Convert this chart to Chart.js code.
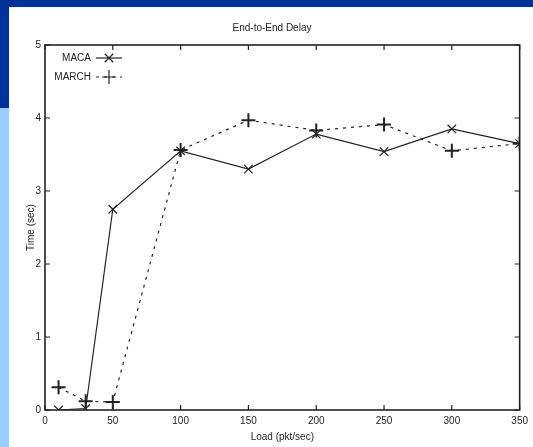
<!DOCTYPE html>
<html>
<head>
<meta charset="utf-8">
<script src="https://cdn.jsdelivr.net/npm/chart.js@4/dist/chart.umd.min.js"></script>
<style>
  html, body { margin: 0; padding: 0; background: #fff; }
  #wrap { position: relative; width: 533px; height: 447px; overflow: hidden; }
  #topBand { position: absolute; left: 0; top: 0; width: 533px; height: 7px; background: #003399; }
  #leftDark { position: absolute; left: 0; top: 0; width: 9px; height: 108px; background: #003399; }
  #leftLight { position: absolute; left: 0; top: 108px; width: 9px; height: 339px; background: #99ccff; }
  canvas { position: absolute; left: 0; top: 0; }
</style>
</head>
<body>
<div id="wrap">
  <canvas id="myChart" width="533" height="447"></canvas>
  <div id="topBand"></div>
  <div id="leftDark"></div>
  <div id="leftLight"></div>
</div>
<script>
// data
const loads = [10, 30, 50, 100, 150, 200, 250, 300, 350];
const macaDelay = [0.0, 0.02, 2.75, 3.55, 3.3, 3.78, 3.54, 3.85, 3.65];
const marchDelay = [0.31, 0.12, 0.11, 3.56, 3.97, 3.83, 3.91, 3.55, 3.65];
const xTicks = [0, 50, 100, 150, 200, 250, 300, 350];
const yTicks = [0, 1, 2, 3, 4, 5];

const ink = "#222";
const font = { family: "'Liberation Sans', Arial, sans-serif", size: 10, weight: "normal" };

const toPoints = (ys) => loads.map((x, i) => ({ x: x, y: ys[i] }));

// gnuplot style frame with inward ticks on all four sides
const framePlugin = {
  id: "frame",
  afterDatasetsDraw(chart) {
    const { ctx, chartArea: a, scales } = chart;
    ctx.save();
    ctx.strokeStyle = ink;
    ctx.lineWidth = 1.6;
    ctx.strokeRect(a.left, a.top, a.right - a.left, a.bottom - a.top);
    ctx.lineWidth = 1.2;
    ctx.beginPath();
    xTicks.forEach((v) => {
      const px = scales.x.getPixelForValue(v);
      ctx.moveTo(px, a.bottom);
      ctx.lineTo(px, a.bottom - 5);
      ctx.moveTo(px, a.top);
      ctx.lineTo(px, a.top + 5);
    });
    yTicks.forEach((v) => {
      const py = scales.y.getPixelForValue(v);
      ctx.moveTo(a.left, py);
      ctx.lineTo(a.left + 5, py);
      ctx.moveTo(a.right, py);
      ctx.lineTo(a.right - 5, py);
    });
    ctx.stroke();
    ctx.restore();
  },
};

// key in the top left corner, like gnuplot
const keyPlugin = {
  id: "key",
  afterDraw(chart) {
    const { ctx, chartArea: a } = chart;
    const sets = chart.data.datasets;
    ctx.save();
    ctx.font = font.size + "px " + font.family;
    ctx.fillStyle = ink;
    ctx.textAlign = "right";
    ctx.textBaseline = "middle";
    sets.forEach((ds, i) => {
      const y = a.top + 13 + i * 19;
      const xText = a.left + 46;
      ctx.fillText(ds.label, xText, y);
      ctx.strokeStyle = ink;
      ctx.lineWidth = ds.borderWidth;
      ctx.setLineDash(ds.borderDash || []);
      ctx.beginPath();
      ctx.moveTo(xText + 5, y);
      ctx.lineTo(xText + 31, y);
      ctx.stroke();
      ctx.setLineDash([]);
      Chart.helpers.drawPoint(ctx, {
        pointStyle: ds.pointStyle,
        radius: ds.pointRadius,
        borderWidth: ds.pointBorderWidth,
      }, xText + 18, y);
    });
    ctx.restore();
  },
};

const ctx = document.getElementById("myChart").getContext("2d");
const myChart = new Chart(ctx, {
  type: "line",
  data: {
    datasets: [
      {
        label: "MACA",
        data: toPoints(macaDelay),
        borderColor: ink,
        backgroundColor: ink,
        borderWidth: 1.2,
        pointStyle: "crossRot",
        pointRadius: 6,
        pointBorderWidth: 1.2,
        pointBorderColor: ink,
        fill: false,
        tension: 0,
      },
      {
        label: "MARCH",
        data: toPoints(marchDelay),
        borderColor: ink,
        backgroundColor: ink,
        borderWidth: 1.2,
        borderDash: [3, 5],
        pointStyle: "cross",
        pointRadius: 7,
        pointBorderWidth: 2,
        pointBorderColor: ink,
        fill: false,
        tension: 0,
      },
    ],
  },
  options: {
    responsive: false,
    animation: false,
    layout: { padding: { left: 22, right: 11, top: 0, bottom: 2 } },
    plugins: {
      legend: { display: false },
      tooltip: { enabled: false },
      title: {
        display: true,
        text: "End-to-End Delay",
        color: ink,
        font: font,
        padding: { top: 22, bottom: 11 },
      },
    },
    scales: {
      x: {
        type: "linear",
        min: 0,
        max: 350,
        afterFit: (scale) => { scale.height = 35; },
        ticks: { stepSize: 50, color: ink, font: font, padding: 5, maxRotation: 0 },
        grid: { display: false, drawTicks: false },
        border: { display: false },
        title: { display: true, text: "Load (pkt/sec)", color: ink, font: font, padding: { top: 0, bottom: 2 } },
      },
      y: {
        min: 0,
        max: 5,
        afterFit: (scale) => { scale.width = 23; },
        ticks: { stepSize: 1, color: ink, font: font, padding: 4 },
        grid: { display: false, drawTicks: false },
        border: { display: false },
        title: { display: true, text: "Time (sec)", color: ink, font: font, padding: { top: 3, bottom: 0 } },
      },
    },
  },
  plugins: [framePlugin, keyPlugin],
});
</script>
</body>
</html>
